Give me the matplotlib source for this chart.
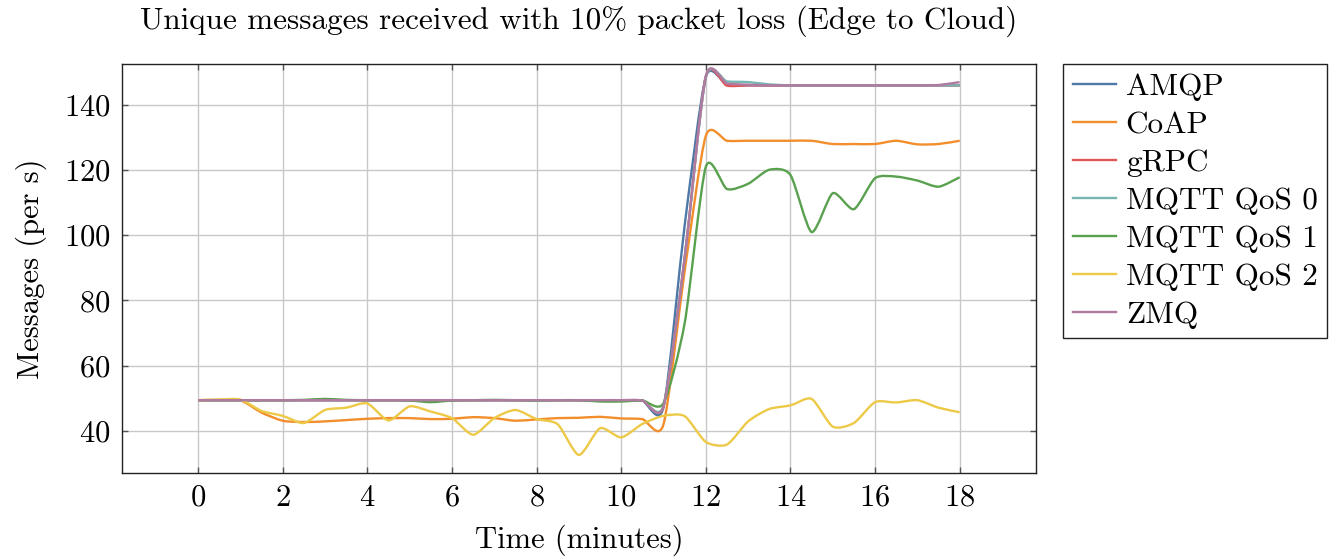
import numpy as np
import matplotlib.pyplot as plt
from matplotlib.path import Path
from matplotlib.patches import PathPatch
from matplotlib.lines import Line2D

plt.rcParams['font.family'] = 'cmr10'
plt.rcParams['mathtext.fontset'] = 'cm'
plt.rcParams['axes.formatter.use_mathtext'] = True

# samples every 30 s
minutes = np.arange(0, 18.01, 0.5)

amqp = [49.4, 49.4, 49.4, 49.4, 49.4, 49.4, 49.4, 49.4, 49.4, 49.4, 49.4, 49.4,
        49.4, 49.4, 49.4, 49.4, 49.4, 49.4, 49.4, 49.4, 49.4, 49.3, 47.2, 103.0,
        148.6, 146.2, 146.0, 146.0, 146.0, 146.0, 146.0, 146.0, 146.0, 146.0, 146.0, 146.0, 146.0]
coap = [49.4, 49.5, 49.4, 45.6, 43.1, 42.7, 42.9, 43.3, 43.7, 43.9, 43.9, 43.6,
        43.7, 44.2, 43.9, 43.1, 43.5, 43.9, 44.0, 44.3, 43.8, 43.6, 42.0, 89.0,
        130.5, 129.0, 129.0, 129.0, 129.0, 129.0, 128.0, 128.0, 128.0, 129.0, 127.9, 128.0, 129.0]
grpc = [49.4, 49.4, 49.4, 49.4, 49.4, 49.4, 49.4, 49.4, 49.4, 49.4, 49.4, 49.4,
        49.4, 49.4, 49.4, 49.4, 49.4, 49.4, 49.4, 49.4, 49.4, 49.3, 47.6, 93.0,
        148.6, 145.9, 146.0, 146.0, 146.0, 146.0, 146.0, 146.0, 146.0, 146.0, 146.0, 146.0, 146.0]
mqtt0 = [49.4, 49.4, 49.4, 49.4, 49.4, 49.4, 49.4, 49.4, 49.4, 49.4, 49.4, 49.4,
         49.4, 49.4, 49.4, 49.4, 49.4, 49.4, 49.4, 49.4, 49.4, 49.3, 47.8, 93.0,
         148.4, 147.2, 147.0, 146.3, 146.0, 146.0, 146.0, 146.0, 146.0, 146.0, 146.0, 146.0, 146.0]
mqtt1 = [49.4, 49.4, 49.4, 49.4, 49.4, 49.5, 49.8, 49.5, 49.4, 49.4, 49.3, 48.8,
         49.3, 49.4, 49.5, 49.4, 49.3, 49.4, 49.4, 49.0, 49.0, 49.3, 48.5, 73.0,
         121.0, 114.2, 115.8, 120.1, 118.5, 101.0, 112.9, 108.0, 117.5, 118.0, 116.8, 114.9, 117.8]
mqtt2 = [49.4, 49.6, 49.6, 46.1, 44.6, 42.4, 46.4, 47.1, 48.4, 43.2, 47.5, 45.9,
         43.9, 38.8, 43.9, 46.4, 43.6, 42.0, 32.6, 40.8, 38.0, 42.1, 44.6, 44.5,
         36.6, 35.8, 42.9, 46.7, 47.8, 49.8, 41.3, 42.4, 48.8, 48.7, 49.4, 47.1, 45.7]
zmq = [49.4, 49.4, 49.4, 49.4, 49.4, 49.4, 49.4, 49.4, 49.4, 49.4, 49.4, 49.4,
       49.4, 49.4, 49.4, 49.4, 49.4, 49.4, 49.4, 49.4, 49.4, 49.3, 47.5, 93.0,
       148.8, 146.6, 146.2, 146.0, 146.0, 146.0, 146.0, 146.0, 146.0, 146.0, 146.0, 146.1, 147.0]

labels = ['AMQP', 'CoAP', 'gRPC', 'MQTT QoS 0', 'MQTT QoS 1', 'MQTT QoS 2', 'ZMQ']
series = [amqp, coap, grpc, mqtt0, mqtt1, mqtt2, zmq]
colors = ['#4e79a7', '#f28e2b', '#e15759', '#76b7b2', '#59a14f', '#edc948', '#b07aa1']


def smooth_path(x, y, k=0.12):
    # cubic bezier through every sample (tikz-like smooth plot)
    pts = np.column_stack([x, y]).astype(float)
    n = len(pts)
    verts = [pts[0]]
    codes = [Path.MOVETO]
    for i in range(n - 1):
        p0 = pts[max(i - 1, 0)]
        p1 = pts[i]
        p2 = pts[i + 1]
        p3 = pts[min(i + 2, n - 1)]
        c1 = p1 + k * (p2 - p0)
        c2 = p2 - k * (p3 - p1)
        verts += [c1, c2, p2]
        codes += [Path.CURVE4] * 3
    return Path(verts, codes)


fig = plt.figure(figsize=(13.4, 5.6), dpi=100)
ax = fig.add_axes([0.091, 0.155, 0.682, 0.731])

handles = []
for vals, lab, c in zip(series, labels, colors):
    ax.add_patch(PathPatch(smooth_path(minutes, vals), facecolor='none',
                           edgecolor=c, lw=1.7, zorder=3))
    handles.append(Line2D([], [], color=c, lw=1.7, label=lab))

ax.set_xlim(-1.8, 19.8)
ax.set_ylim(27, 152.6)
ax.set_xticks(range(0, 19, 2))
ax.set_yticks(range(40, 141, 20))
ax.grid(True, color='#c8c8c8', lw=1.0)
ax.set_axisbelow(True)
ax.tick_params(direction='in', top=True, right=True, length=4, width=1,
               color='#555555', labelsize=22, pad=8)
for s in ax.spines.values():
    s.set_color('#222222')
    s.set_linewidth(1.0)

ax.set_title('Unique messages received with 10% packet loss (Edge to Cloud)',
             fontsize=22.4, pad=25)
ax.set_xlabel('Time (minutes)', fontsize=22, labelpad=9)
ax.set_ylabel('Messages (per s)', fontsize=22, labelpad=12)

leg = ax.legend(handles=handles, loc='upper left', bbox_to_anchor=(1.03, 1.0),
                borderaxespad=0, fontsize=22.5, frameon=True, fancybox=False,
                framealpha=1, edgecolor='#222222', handlelength=1.4,
                handletextpad=0.3, labelspacing=0.32, borderpad=0.3)
leg.get_frame().set_linewidth(1.0)

plt.savefig('out.png', dpi=100)
